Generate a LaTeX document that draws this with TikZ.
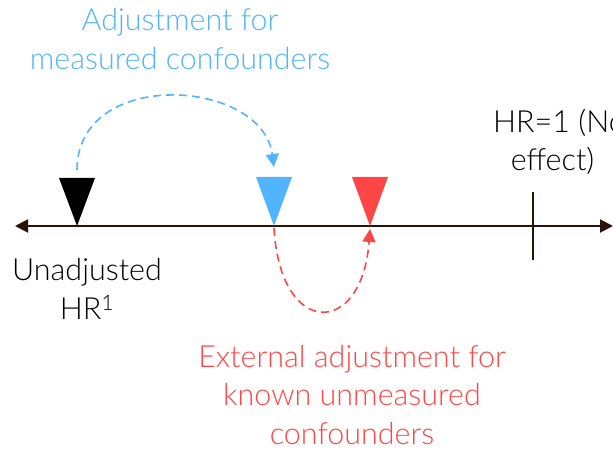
\documentclass[tikz,border=0pt]{standalone}
\usepackage{fontspec}
\setmainfont{Lato Light}
\usetikzlibrary{arrows.meta}
\definecolor{axisbrown}{HTML}{2A140A}
\definecolor{adjblue}{HTML}{52B4FF}
\definecolor{extred}{HTML}{FF4646}
\tikzset{
  lbl/.style={align=center, font=\fontsize{30.5}{38.5}\selectfont, inner sep=0pt},
  arc/.style={dashed, dash pattern=on 8pt off 5pt, line width=1.6pt, draw=#1,
    -{Triangle[length=13pt,width=13pt]}},
}
\begin{document}
\begin{tikzpicture}[x=1pt,y=-1pt]
  \useasboundingbox (0,0) rectangle (613,449);
  \clip (0,0) rectangle (613,449);
  % axis
  \coordinate (L) at (15,226);
  \coordinate (R) at (613,226);
  \draw[axisbrown, line width=2pt, {Triangle[length=13pt,width=13pt]}-{Triangle[length=13pt,width=13pt]}] (L) -- (R);
  % HR = 1 tick
  \coordinate (t1) at (533,192);
  \coordinate (t2) at (533,260);
  \draw[axisbrown, line width=2pt] (t1) -- (t2);
  % estimate markers
  \coordinate (pu) at (77,226);
  \coordinate (pm) at (274,226);
  \coordinate (pe) at (370,226);
  \fill[black]   (pu) -- ++(-18,-48) -- ++(36,0) -- cycle;
  \fill[adjblue] (pm) -- ++(-18,-49) -- ++(36,0) -- cycle;
  \fill[extred]  (pe) -- ++(-18,-49) -- ++(36,0) -- cycle;
  % adjustment arcs
  \coordinate (bs) at (77,170);
  \coordinate (be) at (274,167);
  \draw[arc=adjblue] (bs) .. controls (77,67) and (262,78) .. (be);
  \coordinate (rs) at (274,228);
  \coordinate (re) at (370,229);
  \draw[arc=extred] (rs) .. controls (280,338) and (362,338) .. (re);
  % labels
  \node[lbl, text=adjblue] (tblue) at (180,39) {Adjustment for\\measured confounders};
  \node[lbl, text=extred] (tred) at (352,395) {External adjustment for\\known unmeasured\\confounders};
  \node[lbl, text=black] (tun) at (87,289) {Unadjusted\\HR\textsuperscript{1}};
  \node[lbl, text=black, anchor=west] (tnull) at (493,142) {HR=1 (No\\effect)\hspace*{14pt}};
\end{tikzpicture}
\end{document}
